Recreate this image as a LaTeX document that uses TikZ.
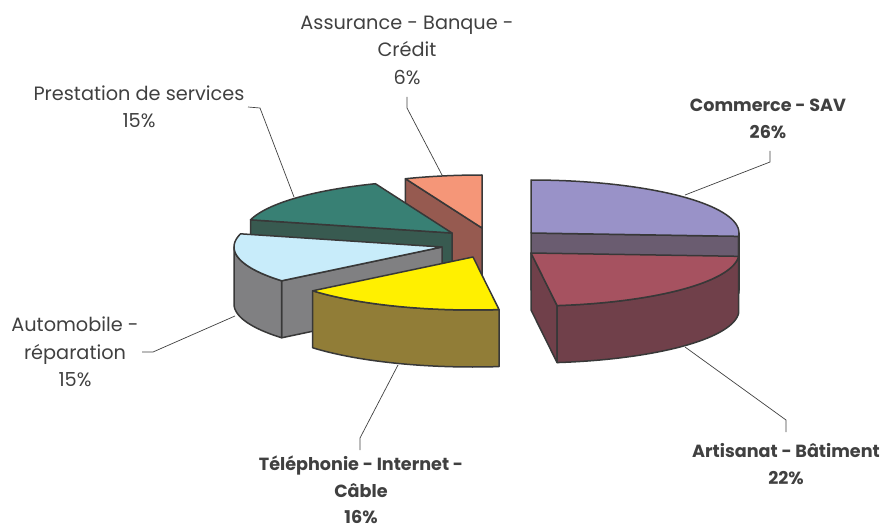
\documentclass[tikz,border=0pt]{standalone}
\usepackage{fontspec}
\setmainfont{Poppins}
\begin{document}
\begin{tikzpicture}[x=1pt,y=-1pt,
  pie/.style={draw=black!78, line width=1.5pt, line join=round},
  lab/.style={align=center, text=black!75, font=\fontsize{19.3}{27.5}\selectfont, inner sep=0pt},
  labb/.style={lab, font=\fontsize{17.6}{27.5}\selectfont\bfseries},
  leader/.style={draw=black!75, line width=0.7pt}]
\definecolor{cTop}{RGB}{153,146,200}\definecolor{cSide}{RGB}{106,92,112}
\definecolor{aTop}{RGB}{166,82,96}\definecolor{aSide}{RGB}{112,64,74}
\definecolor{tTop}{RGB}{255,240,0}\definecolor{tSide}{RGB}{145,125,55}
\definecolor{mTop}{RGB}{200,236,250}\definecolor{mSide}{RGB}{128,128,130}
\definecolor{pTop}{RGB}{56,128,116}\definecolor{pSide}{RGB}{56,90,80}
\definecolor{sTop}{RGB}{245,150,120}\definecolor{sSide}{RGB}{150,90,80}
\useasboundingbox (0,0) rectangle (885,529);
\newcommand{\slicetop}[5]{\filldraw[pie, fill=#5] (#1,#2) -- plot[domain=#3:#4, samples=40] ({#1+208*cos(\x)},{#2-53*sin(\x)}) -- cycle;}
\newcommand{\sliceouter}[5]{\filldraw[pie, fill=#5] plot[domain=#3:#4, samples=40] ({#1+208*cos(\x)},{#2-53*sin(\x)}) -- plot[domain=#4:#3, samples=40] ({#1+208*cos(\x)},{#2+57-53*sin(\x)}) -- cycle;}
\newcommand{\sliceradial}[4]{\filldraw[pie, fill=#4] (#1,#2) -- ({#1+208*cos(#3)},{#2-53*sin(#3)}) -- ({#1+208*cos(#3)},{#2+57-53*sin(#3)}) -- ({#1},{#2+57}) -- cycle;}
% Assurance
\sliceradial{482}{228}{111.6}{sSide}
\slicetop{482}{228}{90}{111.6}{sTop}
% Prestation
\sliceradial{452}{233}{165.6}{pSide}
\slicetop{452}{233}{111.6}{165.6}{pTop}
% Commerce
\sliceradial{531}{233}{-3.6}{cSide}
\sliceouter{531}{233}{-3.6}{0}{cSide}
\slicetop{531}{233}{-3.6}{90}{cTop}
% Automobile
\sliceradial{442}{247}{219.6}{mSide}
\sliceouter{442}{247}{180}{219.6}{mSide}
\slicetop{442}{247}{165.6}{219.6}{mTop}
% Artisanat
\sliceradial{531}{253}{-82.8}{aSide}
\sliceouter{531}{253}{-82.8}{-3.6}{aSide}
\slicetop{531}{253}{-82.8}{-3.6}{aTop}
% Telephonie
\sliceouter{473}{257}{-140.4}{-82.8}{tSide}
\slicetop{473}{257}{-140.4}{-82.8}{tTop}
% labels
\node[lab] (assur) at (407,50) {Assurance - Banque -\\Crédit\\6\%};
\node[lab] (prest) at (139,107) {Prestation de services\\15\%};
\node[labb] (comm) at (768,119) {Commerce - SAV\\26\%};
\node[labb] (arti) at (786,464) {Artisanat - Bâtiment\\22\%};
\node[labb, font=\fontsize{17.6}{26.5}\selectfont\bfseries] (tele) at (361,490) {Téléphonie - Internet -\\Câble\\16\%};
\node[lab] (auto) at (75,352) {Automobile -\\réparation\\15\%};
% leaders
\coordinate (a1) at (407,97); \coordinate (a2) at (407,108); \coordinate (a3) at (442,175);
\coordinate (p1) at (248,107); \coordinate (p2) at (260,108); \coordinate (p3) at (294,197);
\coordinate (c1) at (770,151); \coordinate (c2) at (770,162); \coordinate (c3) at (685,195);
\coordinate (r1) at (786,432); \coordinate (r2) at (786,420); \coordinate (r3) at (685,347);
\coordinate (t1) at (360,450); \coordinate (t2) at (360,438); \coordinate (t3) at (398,365);
\coordinate (m1) at (142,352); \coordinate (m2) at (153,352); \coordinate (m3) at (235,316);
\draw[leader] (a1) -- (a2) -- (a3);
\draw[leader] (p1) -- (p2) -- (p3);
\draw[leader] (c1) -- (c2) -- (c3);
\draw[leader] (r1) -- (r2) -- (r3);
\draw[leader] (t1) -- (t2) -- (t3);
\draw[leader] (m1) -- (m2) -- (m3);
\end{tikzpicture}
\end{document}
